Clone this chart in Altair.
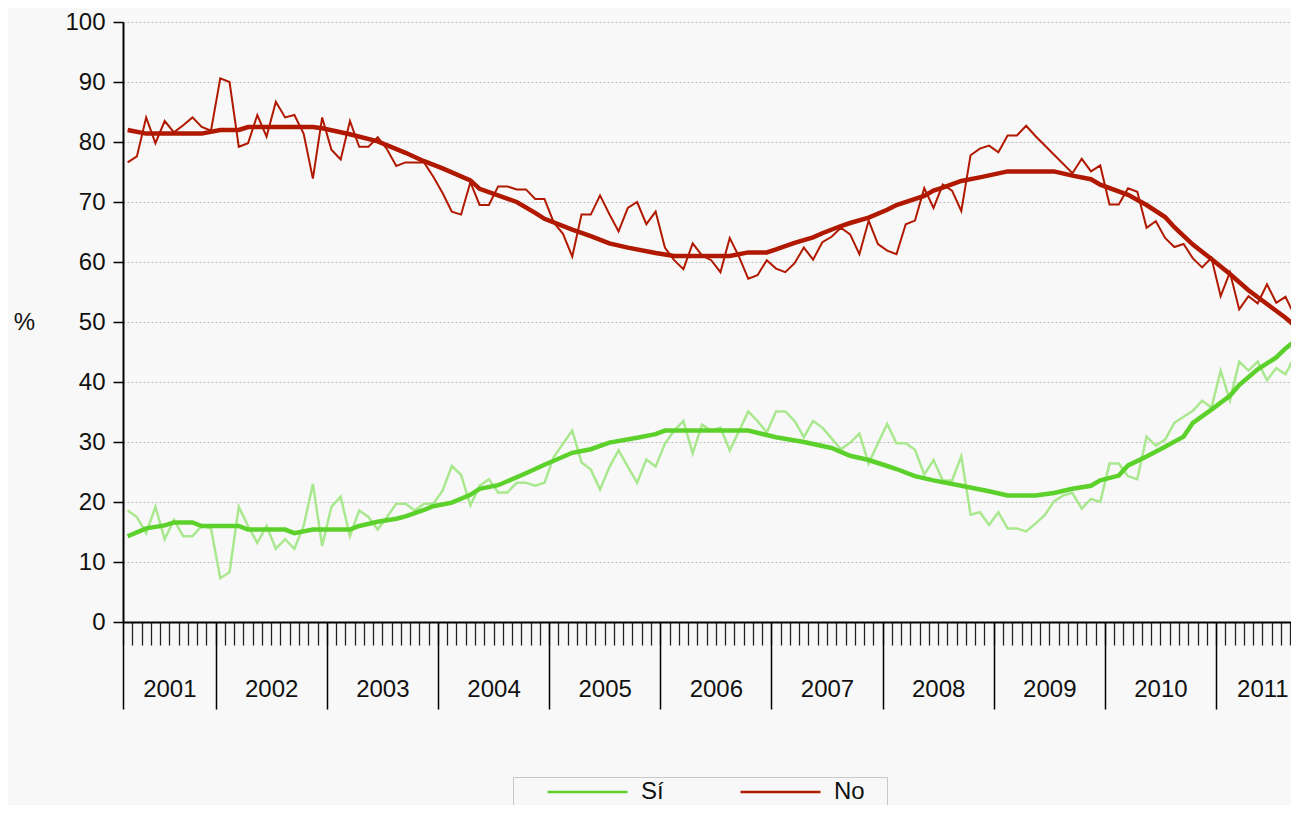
import altair as alt
import pandas as pd

# ---------------- data ----------------
MONTHS = [f"{y}-{m:02d}" for y in range(2001, 2012) for m in range(1, 13)][2:-2]  # 2001-03 .. 2011-10
YEARS = [str(y) for y in range(2001, 2012)]

SI = [18.6, 17.5, 14.8, 19.2, 13.8, 17.0, 14.3, 14.3, 16.0, 15.6,
      7.3, 8.3, 19.2, 16.0, 13.2, 16.0, 12.2, 13.8, 12.2, 16.0,
      23.0, 12.7, 19.2, 20.9, 14.3, 18.6, 17.5, 15.4, 17.5, 19.7,
      19.7, 18.6, 19.7, 19.7, 21.9, 26.0, 24.5,
      19.4, 22.7, 23.8, 21.6, 21.6, 23.2, 23.2, 22.7, 23.2, 27.5,
      29.7, 31.9, 26.6, 25.4, 22.1, 25.8, 28.6, 25.9, 23.2, 27.1,
      25.9, 29.7, 31.9, 33.5, 28.1, 32.9, 31.9, 32.4, 28.6, 31.8,
      35.1, 33.5, 31.6, 35.1, 35.1, 33.5, 30.8, 33.5, 32.4,
      30.6, 28.8, 29.9, 31.4, 26.4, 29.8, 33.0, 29.8, 29.8, 28.7,
      24.6, 27.0, 23.6, 23.6, 27.6, 17.9, 18.3, 16.2, 18.3, 15.6,
      15.6, 15.1, 16.4, 17.8, 20.1, 21.1, 21.5, 18.9, 20.5, 20.0,
      26.4, 26.4, 24.3, 23.8, 30.9, 29.4, 30.4, 33.2, 34.2, 35.2,
      36.9, 35.7, 41.9, 36.9, 43.4, 41.9, 43.4, 40.3, 42.3, 41.3,
      44.3, 47.3]

NO = [76.6, 77.6, 84.1, 79.8, 83.5, 81.6, 82.8, 84.1, 82.5, 81.9,
      90.6, 90.0, 79.2, 79.8, 84.5, 80.9, 86.7, 84.1, 84.5, 81.4,
      73.9, 84.1, 78.7, 77.1, 83.5, 79.2, 79.2, 80.8, 78.8, 76.0,
      76.6, 76.6, 76.6, 74.2, 71.5,
      68.4, 67.9, 73.3, 69.5, 69.5, 72.6, 72.6, 72.1, 72.1, 70.5,
      70.5, 66.6, 64.7, 60.9, 67.9, 67.9, 71.1, 68.0, 65.1, 69.0,
      70.0, 66.3, 68.4, 62.4, 60.3, 58.8, 63.1, 61.1, 60.3, 58.3,
      64.0, 60.9, 57.2, 57.8, 60.3, 58.9, 58.3, 59.8, 62.4, 60.4, 63.3,
      64.2, 65.7, 64.6, 61.3, 66.9, 63.0, 61.9, 61.3, 66.3, 66.9,
      72.3, 69.0, 72.9, 71.9, 68.5, 77.8, 78.9, 79.4, 78.3, 81.1,
      81.1, 82.7, 81.0, None, None, None, 74.8, 77.2, 75.1, 76.1,
      69.6, 69.6, 72.3, 71.7, 65.7, 66.8, 64.0, 62.5, 63.0, 60.6,
      59.1, 60.7, 54.3, 58.3, 52.1, 54.3, 53.1, 56.3, 53.2, 54.2,
      51.0, 48.6]

# smoothed trend lines: month positions (index into MONTHS) and values
SI_TREND_AT = [0, 2, 4, 5, 7, 8, 12, 13, 17, 18, 20, 24, 25, 27, 29, 30, 32, 33, 35, 37,
               38, 40, 43, 45, 48, 50, 52, 55, 57, 58, 67, 70, 73, 76, 78, 80, 82, 83, 85, 87,
               90, 93, 95, 98, 100, 102, 104, 105, 107, 108, 110, 112, 114, 115, 117, 119, 120,
               122, 124, 125, 127]
SI_TREND = [14.3, 15.6, 16.1, 16.6, 16.6, 16.0, 16.0, 15.4, 15.4, 14.8, 15.4, 15.4, 16.0, 16.7,
            17.2, 17.6, 18.7, 19.3, 19.9, 21.2, 22.2, 22.8, 24.8, 26.2, 28.2, 28.8, 29.9, 30.7,
            31.3, 31.9, 31.9, 30.8, 30.0, 29.0, 27.7, 27.0, 26.0, 25.5, 24.3, 23.6, 22.7, 21.8,
            21.1, 21.1, 21.5, 22.2, 22.7, 23.6, 24.4, 26.1, 27.6, 29.2, 30.9, 33.2, 35.4, 37.7,
            39.5, 42.1, 44.1, 45.6, 48.0]

NO_TREND_AT = [0, 2, 8, 10, 12, 13, 20, 21, 24, 27, 30, 32, 34, 37, 38, 42, 44, 45, 48, 50,
               52, 54, 57, 59, 65, 67, 69, 70, 72, 74, 75, 77, 78, 80, 82, 83, 86, 87, 88, 90,
               92, 95, 100, 102, 104, 105, 108, 110, 112, 113, 115, 117, 119, 121, 123, 125, 127]
NO_TREND = [82.0, 81.4, 81.4, 82.0, 82.0, 82.5, 82.5, 82.3, 81.3, 80.1, 78.2, 76.8, 75.6, 73.6,
            72.2, 70.0, 68.2, 67.2, 65.4, 64.3, 63.1, 62.4, 61.5, 61.0, 61.0, 61.6, 61.6, 62.1,
            63.2, 64.1, 64.8, 66.0, 66.5, 67.4, 68.7, 69.5, 71.0, 71.9, 72.4, 73.5, 74.1, 75.1,
            75.1, 74.4, 73.8, 72.9, 71.2, 69.5, 67.5, 65.8, 62.9, 60.5, 58.0, 55.3, 53.0, 50.7,
            48.0]

SERIES = ["Sí", "No"]

# ---------------- styles / layout ----------------
FONT = "Liberation Sans"
RED = "#B01800"
GREEN = "#5DD12B"
GREEN_LIGHT = "#A9E88E"
TEXT = "#111111"

PLOT_W, PLOT_H = 1168, 600
MONTH_PX = 9.263            # width of one monthly category in the reference
PAD = {"left": 115, "top": 14, "right": 0, "bottom": 183}

thin_si = pd.DataFrame({"month": MONTHS, "pos": range(len(MONTHS)), "serie": "Sí", "value": SI})
thin_no = pd.DataFrame({"month": MONTHS, "pos": range(len(MONTHS)), "serie": "No", "value": NO}).dropna()
trend = pd.concat([
    pd.DataFrame({"month": [MONTHS[i] for i in SI_TREND_AT], "pos": SI_TREND_AT, "serie": "Sí", "value": SI_TREND}),
    pd.DataFrame({"month": [MONTHS[i] for i in NO_TREND_AT], "pos": NO_TREND_AT, "serie": "No", "value": NO_TREND}),
])

x_end = PLOT_W / MONTH_PX - 0.5          # the picture is cropped inside the last month
x_dom = [-0.5, x_end]
month_ticks = [i - 0.5 for i in range(len(MONTHS) + 1) if i - 0.5 <= x_end]
year_first = [next(i for i, m in enumerate(MONTHS) if m.startswith(y)) for y in YEARS]
year_bounds = [i - 0.5 for i in year_first]
year_ends = year_bounds[1:] + [len(MONTHS) - 0.5]
year_centers = [(a + b) / 2 for a, b in zip(year_bounds, year_ends)]
label_expr = ("[" + ",".join(f"'{y}'" for y in YEARS) + "][indexof(["
              + ",".join(str(c) for c in year_centers) + "], datum.value)]")

xscale = alt.Scale(domain=x_dom, nice=False, zero=False)

y_enc = alt.Y(
    "value:Q",
    scale=alt.Scale(domain=[0, 100], nice=False),
    axis=alt.Axis(
        values=list(range(0, 101, 10)), title="%", titleAngle=0, titleX=-99, titleY=300,
        titleAlign="center", titleBaseline="middle", titleFont=FONT, titleFontSize=24,
        titleFontWeight="normal", titleColor=TEXT,
        labelFont=FONT, labelFontSize=24, labelColor=TEXT, labelPadding=8,
        tickSize=10, tickColor="#000000", tickWidth=1.5,
        domainColor="#000000", domainWidth=2,
        grid=True, gridColor="#BDBDBD", gridDash=[2, 2], gridWidth=1,
    ),
)

layer_si = alt.Chart(thin_si).mark_line(color=GREEN_LIGHT, strokeWidth=2.5, clip=True).encode(
    x=alt.X("pos:Q", scale=xscale, title=None,
            axis=alt.Axis(orient="bottom", values=month_ticks, tickSize=23, tickColor="#222222",
                          tickWidth=1.3, labels=False, domain=True, domainColor="#000000",
                          domainWidth=2, grid=False)),
    y=y_enc,
)

layer_no = alt.Chart(thin_no).mark_line(color=RED, strokeWidth=2, clip=True).encode(
    x=alt.X("pos:Q", scale=xscale, title=None,
            axis=alt.Axis(orient="bottom", values=year_bounds, tickSize=87, tickColor="#000000",
                          tickWidth=1.5, labels=False, domain=False, grid=False)),
    y=y_enc,
)

layer_trend = alt.Chart(trend).mark_line(strokeWidth=4.5, clip=True).encode(
    x=alt.X("pos:Q", scale=xscale, title=None,
            axis=alt.Axis(orient="bottom", values=year_centers, ticks=False, domain=False, grid=False,
                          labelExpr=label_expr, labelPadding=55, labelFont=FONT, labelFontSize=24,
                          labelColor=TEXT, labelFlush=False, labelOverlap=False)),
    y=y_enc,
    color=alt.Color(
        "serie:N",
        scale=alt.Scale(domain=SERIES, range=[GREEN, RED]),
        legend=alt.Legend(
            title=None, orient="none", legendX=390, legendY=755, direction="horizontal",
            symbolType="stroke", symbolSize=6400, symbolStrokeWidth=2.5, clipHeight=22,
            symbolOffset=29, labelOffset=12, columnPadding=28, padding=4,
            labelExpr="datum.label + '\u2800'",
            strokeColor="#C8C8C8", labelFont=FONT, labelFontSize=24, labelColor=TEXT,
        ),
    ),
)

chart = (
    alt.layer(layer_si, layer_no, layer_trend)
    .resolve_scale(x="independent")
    .properties(width=PLOT_W, height=PLOT_H, background="#F8F8F8",
                autosize=alt.AutoSizeParams(type="none"), padding=PAD)
    .configure(font=FONT)
    .configure_view(strokeWidth=0)
)

chart.save("out.html", embed_options={"renderer": "svg", "actions": False})
